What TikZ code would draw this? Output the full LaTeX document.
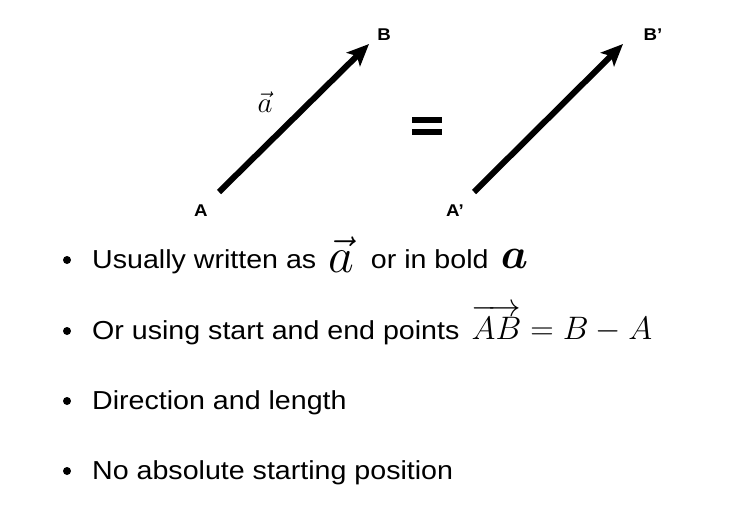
\RequirePackage{fix-cm}
\documentclass[tikz,border=0pt]{standalone}
\usepackage{amsmath,amssymb,bm}
\usepackage{fontspec}
\setmainfont[FakeStretch=1.1]{Liberation Sans}
\usetikzlibrary{arrows.meta}
\begin{document}
\begin{tikzpicture}[x=1pt,y=-1pt,
  vec/.style={line width=6pt,-{Stealth[length=22pt,width=19pt,inset=5pt]}},
  pt/.style={font=\fontsize{17}{20}\selectfont\bfseries,inner sep=0pt},
  txt/.style={font=\fontsize{26}{30}\selectfont,anchor=base west,inner sep=0pt},
  bul/.style={circle,fill=black,inner sep=0pt,minimum size=8pt}]
\useasboundingbox (0,0) rectangle (755,507);
% vector a
\coordinate (A) at (219,192);
\coordinate (B) at (369,44);
\draw[vec] (A) -- (B);
\node[pt] (lA) at (201,211) {A};
\node[pt] (lB) at (384,35) {B};
\node[inner sep=0pt] (la) at (265,102) {\fontsize{29}{32}\selectfont$\vec{a}$};
% equals
\fill (412,117) rectangle (442,123);
\fill (412,129) rectangle (442,135);
% vector a'
\coordinate (A2) at (474,192);
\coordinate (B2) at (623,44);
\draw[vec] (A2) -- (B2);
\node[pt] (lA2) at (455,211) {A’};
\node[pt] (lB2) at (653,35) {B’};
% bullets
\node[bul] (b1) at (67,260) {};
\node[bul] (b2) at (67,331) {};
\node[bul] (b3) at (67,401) {};
\node[bul] (b4) at (67,471) {};
\node[txt] (t1) at (92,268) {Usually written as \,\smash{\raisebox{-4pt}{\fontsize{50}{54}\selectfont$\vec{a}$}}\,\, or in bold \,\smash{\fontsize{43}{46}\selectfont$\bm{a}$}};
\node[txt] (t2) at (92,339) {Or using start and end points \,\smash{\fontsize{32.5}{36}\selectfont$\overrightarrow{AB}=B-A$}};
\node[txt] (t3) at (92,409) {Direction and length};
\node[txt] (t4) at (92,479) {No absolute starting position};
\end{tikzpicture}
\end{document}
